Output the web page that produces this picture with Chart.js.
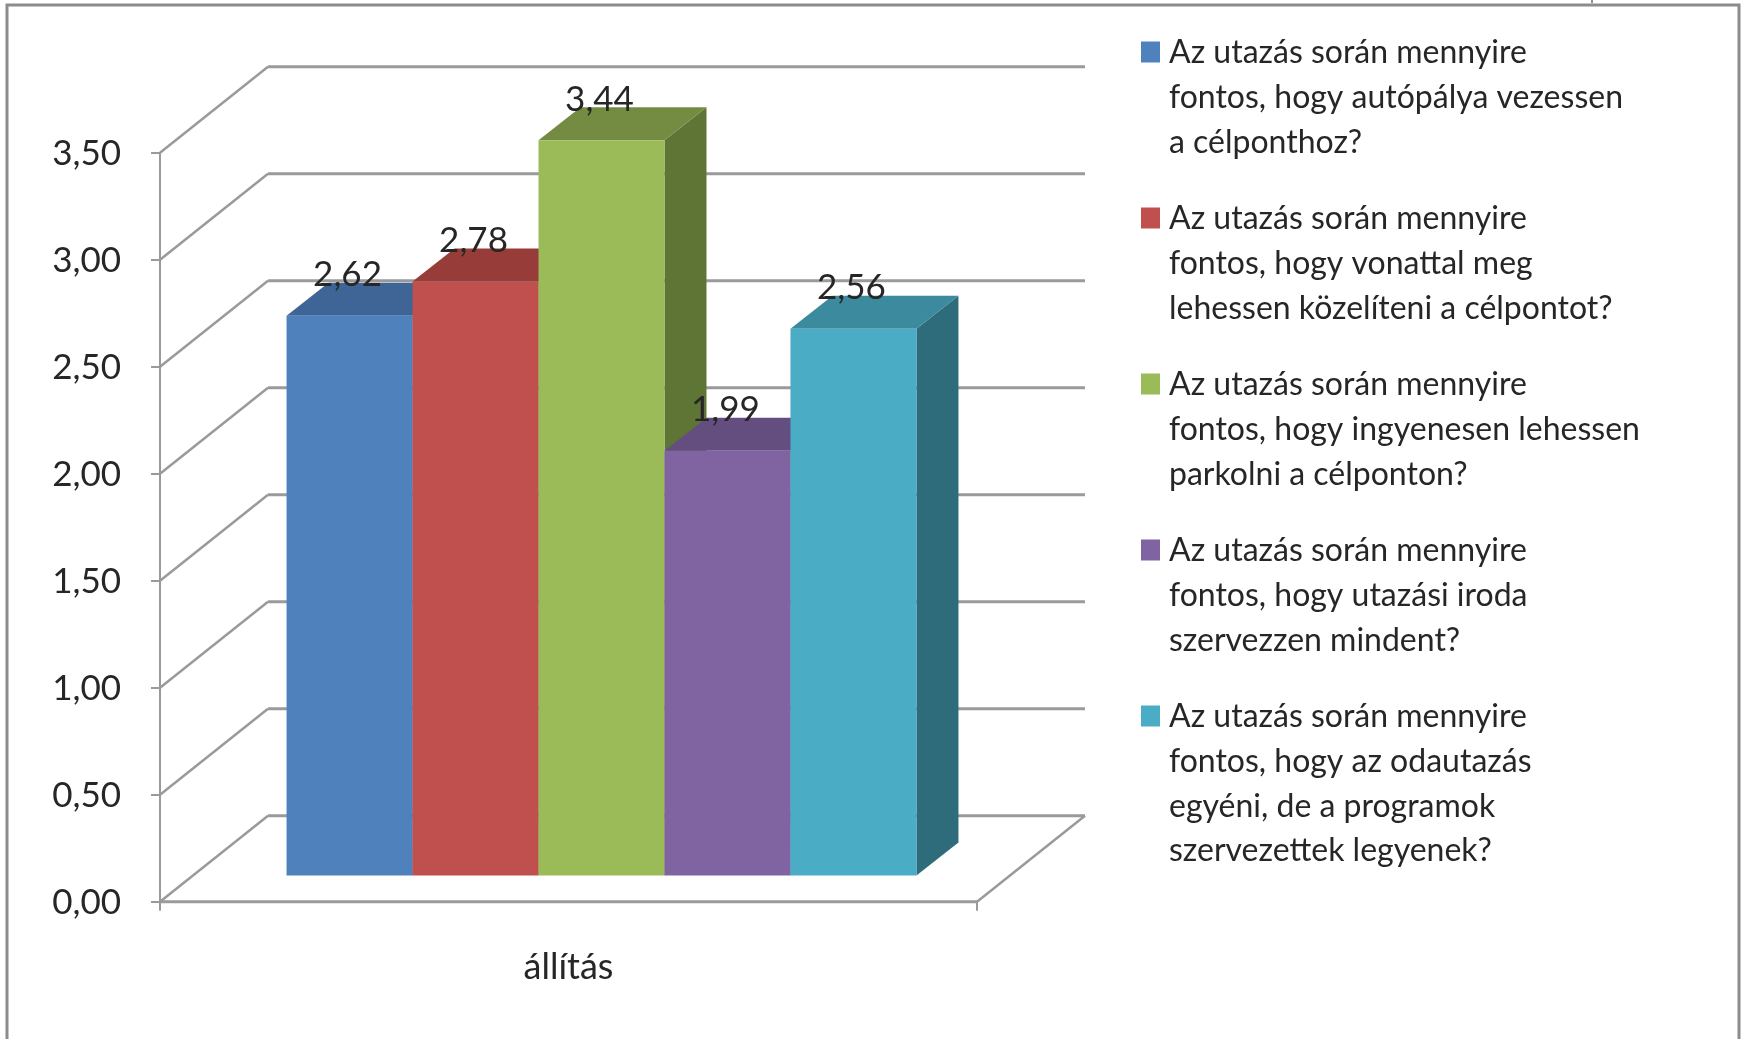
<!DOCTYPE html>
<html>
<head>
<meta charset="utf-8">
<title>állítás</title>
<script src="https://cdn.jsdelivr.net/npm/chart.js@4"></script>
<style>
    html, body { margin: 0; padding: 0; background: #fff; overflow: hidden; }
    canvas { display: block; }
</style>
</head>
<body>
<canvas id="myChart" width="1741" height="1039"></canvas>
<script>
const categories = ['állítás'];
const values = [2.62, 2.78, 3.44, 1.99, 2.56];
const valueLabels = ['2,62', '2,78', '3,44', '1,99', '2,56'];
const yTickLabels = ['0,00', '0,50', '1,00', '1,50', '2,00', '2,50', '3,00', '3,50'];

const legendTexts = [
    ['Az utazás során mennyire', 'fontos, hogy autópálya vezessen', 'a célponthoz?'],
    ['Az utazás során mennyire', 'fontos, hogy vonattal meg', 'lehessen közelíteni a célpontot?'],
    ['Az utazás során mennyire', 'fontos, hogy ingyenesen lehessen', 'parkolni a célponton?'],
    ['Az utazás során mennyire', 'fontos, hogy utazási iroda', 'szervezzen mindent?'],
    ['Az utazás során mennyire', 'fontos, hogy az odautazás', 'egyéni, de a programok', 'szervezettek legyenek?']
];

const frontColors = ['#4f81bd', '#c0504d', '#9bbb59', '#8064a2', '#4bacc6'];
const topColors = ['#3e6596', '#983c3a', '#748c42', '#644e7f', '#3b8a9e'];
const sideColors = ['#2f4d72', '#733230', '#5f7535', '#4e3d63', '#2e6c7c'];

const gridColor = '#9a9a9a';
const textColor = '#262626';
const fontFamily = 'Lato, sans-serif';

// 3D look: walls go back by wallDepth, bars sit barShift inside the box
const wallDepth = { x: 108, y: -86 };
const barShift = { x: 33, y: -25.2 };
const barDepth = { x: 42, y: -33 };

const legendLayout = { boxX: 1141, boxW: 19, boxH: 21, textX: 1169, lineHeight: 44.7, starts: [53, 219, 385, 551, 717] };

function poly(ctx, pts, color) {
    ctx.fillStyle = color;
    ctx.beginPath();
    pts.forEach((p, i) => i ? ctx.lineTo(p[0], p[1]) : ctx.moveTo(p[0], p[1]));
    ctx.closePath();
    ctx.fill();
}

const framePlugin = {
    id: 'frame',
    beforeDraw(chart) {
        const ctx = chart.ctx;
        ctx.save();
        ctx.strokeStyle = '#8c8c8c';
        ctx.lineWidth = 3;
        ctx.strokeRect(7, 5, 1732, 1050);
        ctx.strokeStyle = '#222';
        ctx.lineWidth = 1;
        ctx.beginPath();
        ctx.moveTo(1592, 0);
        ctx.lineTo(1592, 3);
        ctx.stroke();
        ctx.restore();
    }
};

const wallsPlugin = {
    id: 'walls',
    beforeDatasetsDraw(chart) {
        const ctx = chart.ctx;
        const { left, right } = chart.chartArea;
        const y = chart.scales.y;
        ctx.save();
        ctx.strokeStyle = gridColor;
        ctx.lineJoin = 'round';
        y.ticks.forEach(tick => {
            const py = y.getPixelForValue(tick.value);
            ctx.lineWidth = 2.5;
            ctx.beginPath();
            ctx.moveTo(left, py);
            ctx.lineTo(left + wallDepth.x, py + wallDepth.y);
            ctx.stroke();
            ctx.lineWidth = 3;
            ctx.beginPath();
            ctx.moveTo(left + wallDepth.x, py + wallDepth.y);
            ctx.lineTo(right + wallDepth.x, py + wallDepth.y);
            ctx.stroke();
        });
        // floor, front edge and right edge
        const py0 = y.getPixelForValue(0);
        ctx.lineWidth = 2.5;
        ctx.beginPath();
        ctx.moveTo(right, py0);
        ctx.lineTo(right + wallDepth.x, py0 + wallDepth.y);
        ctx.stroke();
        ctx.lineWidth = 3;
        ctx.beginPath();
        ctx.moveTo(left, py0);
        ctx.lineTo(right, py0);
        ctx.stroke();
        ctx.restore();
    }
};

const barsPlugin = {
    id: 'bars3d',
    // Chart.js paints dataset 0 last, the faces need left to right, so paint them here
    beforeDatasetDraw() {
        return false;
    },
    afterDatasetsDraw(chart) {
        const ctx = chart.ctx;
        ctx.save();
        ctx.translate(barShift.x, barShift.y);
        chart.data.datasets.forEach((ds, i) => {
            const bar = chart.getDatasetMeta(i).data[0];
            const x0 = bar.x - bar.width / 2;
            const x1 = bar.x + bar.width / 2;
            const dx = barDepth.x;
            const dy = barDepth.y;
            poly(ctx, [[x1, bar.y], [x1 + dx, bar.y + dy], [x1 + dx, bar.base + dy], [x1, bar.base]], sideColors[i]);
            poly(ctx, [[x0, bar.y], [x0 + dx, bar.y + dy], [x1 + dx, bar.y + dy], [x1, bar.y]], topColors[i]);
            bar.draw(ctx);
        });
        ctx.restore();

        ctx.save();
        ctx.fillStyle = textColor;
        ctx.font = '35px ' + fontFamily;
        ctx.textAlign = 'center';
        ctx.textBaseline = 'middle';
        chart.data.datasets.forEach((ds, i) => {
            const bar = chart.getDatasetMeta(i).data[0];
            ctx.fillText(valueLabels[i], bar.x + barShift.x - 2, bar.y + barShift.y - 41);
        });
        ctx.restore();
    }
};

const legendPlugin = {
    id: 'sideLegend',
    afterDraw(chart) {
        const ctx = chart.ctx;
        const l = legendLayout;
        ctx.save();
        ctx.font = '32px ' + fontFamily;
        ctx.textBaseline = 'middle';
        chart.data.datasets.forEach((ds, i) => {
            ctx.fillStyle = ds.backgroundColor;
            ctx.fillRect(l.boxX, l.starts[i] - 1 - l.boxH / 2, l.boxW, l.boxH);
            ctx.fillStyle = textColor;
            ds.label.forEach((line, n) => {
                ctx.fillText(line, l.textX, l.starts[i] + n * l.lineHeight);
            });
        });
        ctx.restore();
    }
};

const ctx = document.getElementById('myChart').getContext('2d');
const myChart = new Chart(ctx, {
    type: 'bar',
    data: {
        labels: categories,
        datasets: values.map((v, i) => ({
            label: legendTexts[i],
            data: [v],
            backgroundColor: frontColors[i],
            borderWidth: 0,
            categoryPercentage: 0.771,
            barPercentage: 1
        }))
    },
    plugins: [framePlugin, wallsPlugin, barsPlugin, legendPlugin],
    options: {
        responsive: false,
        animation: false,
        layout: { padding: { top: 152.7, right: 764, left: 0, bottom: 0 } },
        scales: {
            x: {
                afterFit: scale => { scale.height = 137.3; },
                border: { color: gridColor, width: 2 },
                grid: { drawOnChartArea: false, drawTicks: true, tickLength: 9, color: gridColor, lineWidth: 2 },
                ticks: { color: textColor, font: { family: fontFamily, size: 36 }, padding: 35, maxRotation: 0 }
            },
            y: {
                min: 0,
                max: 3.5,
                afterFit: scale => { scale.width = 160; },
                border: { color: gridColor, width: 2 },
                grid: { drawOnChartArea: false, drawTicks: true, tickLength: 9, color: gridColor, lineWidth: 2 },
                ticks: {
                    stepSize: 0.5,
                    color: textColor,
                    font: { family: fontFamily, size: 35 },
                    padding: 30,
                    labelOffset: 1,
                    callback: (value, index) => yTickLabels[index]
                }
            }
        },
        plugins: {
            legend: { display: false },
            tooltip: { enabled: false }
        }
    }
});
</script>
</body>
</html>
